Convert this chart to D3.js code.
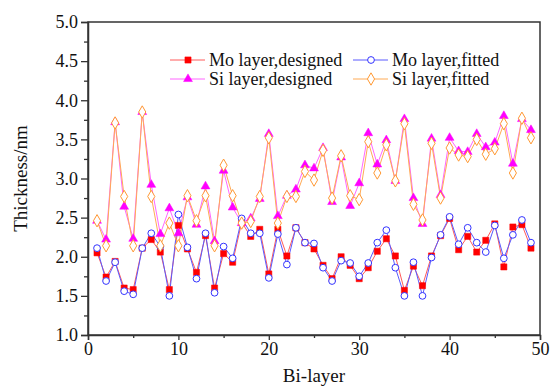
<!DOCTYPE html>
<html>
<head>
<meta charset="utf-8">
<script src="https://cdn.jsdelivr.net/npm/d3@7"></script>
<style>
  body { margin: 0; background: #fff; }
</style>
</head>
<body>
<svg id="chart" width="552" height="387"></svg>
<script>
// bi-layer index 1..49
const layers = d3.range(1, 50);

const moDesigned = [2.05, 1.74, 1.94, 1.60, 1.58, 2.11, 2.22, 2.06, 1.58, 2.40,
  2.10, 1.80, 2.27, 1.60, 2.04, 1.93, 2.44, 2.26, 2.35, 1.78,
  2.35, 2.01, 2.37, 2.18, 2.10, 1.89, 1.72, 2.00, 1.89, 1.72,
  1.86, 2.07, 2.23, 2.01, 1.57, 1.88, 1.63, 2.01, 2.27, 2.49,
  2.09, 2.26, 2.06, 2.21, 2.42, 1.87, 2.38, 2.41, 2.11];

const moFitted = [2.11, 1.69, 1.93, 1.56, 1.52, 2.11, 2.30, 2.13, 1.50, 2.54,
  2.12, 1.72, 2.30, 1.54, 2.13, 1.98, 2.49, 2.30, 2.30, 1.73,
  2.29, 1.90, 2.37, 2.18, 2.17, 1.86, 1.69, 1.95, 1.92, 1.75,
  1.92, 2.18, 2.34, 1.86, 1.50, 1.93, 1.50, 1.99, 2.28, 2.51,
  2.16, 2.37, 2.18, 2.06, 2.40, 1.98, 2.28, 2.47, 2.18];

const siDesigned = [2.46, 2.22, 3.72, 2.64, 2.23, 3.85, 2.92, 2.29, 2.62, 2.30,
  2.76, 2.41, 2.90, 2.20, 3.10, 2.63, 2.43, 2.49, 2.74, 3.57,
  2.52, 2.78, 2.86, 3.17, 3.13, 3.39, 2.70, 3.27, 2.65, 2.94,
  3.58, 3.18, 3.49, 2.97, 3.76, 2.75, 2.42, 3.51, 2.79, 3.52,
  3.35, 3.34, 3.57, 3.40, 3.46, 3.80, 3.19, 3.76, 3.62];

const siFitted = [2.46, 2.14, 3.71, 2.77, 2.14, 3.85, 2.77, 2.14, 2.43, 2.14,
  2.78, 2.46, 2.78, 2.14, 3.17, 2.78, 2.43, 2.45, 2.77, 3.52,
  2.43, 2.77, 2.77, 3.09, 2.98, 3.36, 2.75, 3.29, 2.78, 2.73,
  3.47, 3.07, 3.43, 2.97, 3.70, 2.67, 2.47, 3.45, 2.75, 3.39,
  3.30, 3.28, 3.50, 3.31, 3.38, 3.70, 3.07, 3.77, 3.52];

const xTicks = [0, 10, 20, 30, 40, 50];
const yTicks = [1.0, 1.5, 2.0, 2.5, 3.0, 3.5, 4.0, 4.5, 5.0];

const FONT = '"Liberation Serif", "Times New Roman", serif';

const series = [
  {name: 'Mo layer,designed', values: moDesigned, line: '#ff5a5a', color: '#ff0000', symbol: d3.symbolSquare, size: 38, fill: true},
  {name: 'Mo layer,fitted', values: moFitted, line: '#5a5aff', color: '#3333ff', symbol: d3.symbolCircle, size: 36, fill: false},
  {name: 'Si layer,designed', values: siDesigned, line: '#ff66ff', color: '#ff00ff', symbol: d3.symbolTriangle, size: 34, fill: true},
  {name: 'Si layer,fitted', values: siFitted, line: '#ffaa55', color: '#ff9933', symbol: d3.symbolDiamond, size: 44, fill: false}
];

const margin = {left: 88, right: 12, top: 22, bottom: 52};
const svg = d3.select('#chart');
const W = +svg.attr('width'), H = +svg.attr('height');

const x = d3.scaleLinear().domain([0, 50]).range([margin.left, W - margin.right]);
const y = d3.scaleLinear().domain([1, 5]).range([H - margin.bottom, margin.top]);

// frame
svg.append('rect')
  .attr('x', x(0)).attr('y', y(5))
  .attr('width', x(50) - x(0)).attr('height', y(1) - y(5))
  .attr('fill', 'none').attr('stroke', '#333').attr('stroke-width', 1.5);

// minor ticks
svg.append('g')
  .attr('transform', `translate(${x(0)},0)`)
  .call(d3.axisLeft(y).tickValues(d3.range(1.25, 5, 0.5)).tickSize(4).tickFormat(''))
  .call(g => g.select('.domain').remove())
  .call(g => g.selectAll('line').attr('stroke', '#333').attr('stroke-width', 1.3));

svg.append('g')
  .attr('transform', `translate(0,${y(1)})`)
  .call(d3.axisBottom(x).tickValues(d3.range(5, 50, 10)).tickSize(3).tickFormat(''))
  .call(g => g.select('.domain').remove())
  .call(g => g.selectAll('line').attr('stroke', '#333').attr('stroke-width', 1.3));

// major axes
svg.append('g')
  .attr('transform', `translate(${x(0)},0)`)
  .attr('font-family', FONT)
  .call(d3.axisLeft(y).tickValues(yTicks).tickSize(7).tickPadding(3).tickFormat(d3.format('.1f')))
  .attr('font-family', FONT).attr('font-size', 18)
  .call(g => g.select('.domain').attr('stroke', '#333').attr('stroke-width', 1.5))
  .call(g => g.selectAll('line').attr('stroke', '#333').attr('stroke-width', 1.3))
  .call(g => g.selectAll('text').attr('fill', '#111'));

svg.append('g')
  .attr('transform', `translate(0,${y(1)})`)
  .call(d3.axisBottom(x).tickValues(xTicks).tickSize(5).tickPadding(2))
  .attr('font-family', FONT).attr('font-size', 18)
  .call(g => g.select('.domain').attr('stroke', '#333').attr('stroke-width', 1.5))
  .call(g => g.selectAll('line').attr('stroke', '#333').attr('stroke-width', 1.3))
  .call(g => g.selectAll('text').attr('fill', '#111'));

// axis titles
svg.append('text')
  .attr('x', (x(0) + x(50)) / 2).attr('y', 382)
  .attr('text-anchor', 'middle')
  .attr('font-family', FONT).attr('font-size', 19).attr('fill', '#111')
  .text('Bi-layer');

svg.append('text')
  .attr('transform', `translate(27,${(y(1) + y(5)) / 2}) rotate(-90)`)
  .attr('text-anchor', 'middle')
  .attr('font-family', FONT).attr('font-size', 19).attr('fill', '#111')
  .text('Thickness/nm');

// lines + markers
const line = d3.line().x((d, i) => x(layers[i])).y(d => y(d));

series.forEach(s => {
  svg.append('path')
    .datum(s.values)
    .attr('d', line)
    .attr('fill', 'none')
    .attr('stroke', s.line)
    .attr('stroke-width', 1);
});

series.forEach(s => {
  svg.append('g').selectAll('path')
    .data(s.values)
    .join('path')
    .attr('transform', (d, i) => `translate(${x(layers[i])},${y(d)})`)
    .attr('d', d3.symbol().type(s.symbol).size(s.size))
    .attr('fill', s.fill ? s.color : '#fff')
    .attr('stroke', s.color)
    .attr('stroke-width', s.fill ? 0.5 : 1);
});

// legend
const legendPos = [
  {lx: 170, ly: 60},
  {lx: 353, ly: 60},
  {lx: 170, ly: 79},
  {lx: 353, ly: 79}
];

series.forEach((s, i) => {
  const p = legendPos[i];
  const g = svg.append('g').attr('transform', `translate(${p.lx},${p.ly})`);
  g.append('line').attr('x1', 0).attr('x2', 35).attr('stroke', s.line).attr('stroke-width', 1);
  g.append('path')
    .attr('transform', 'translate(18,0)')
    .attr('d', d3.symbol().type(s.symbol).size(s.size))
    .attr('fill', s.fill ? s.color : '#fff')
    .attr('stroke', s.color)
    .attr('stroke-width', s.fill ? 0.5 : 1);
  g.append('text')
    .attr('x', 39).attr('dy', '0.33em')
    .attr('font-family', FONT).attr('font-size', 18).attr('fill', '#111')
    .text(s.name);
});
</script>
</body>
</html>
